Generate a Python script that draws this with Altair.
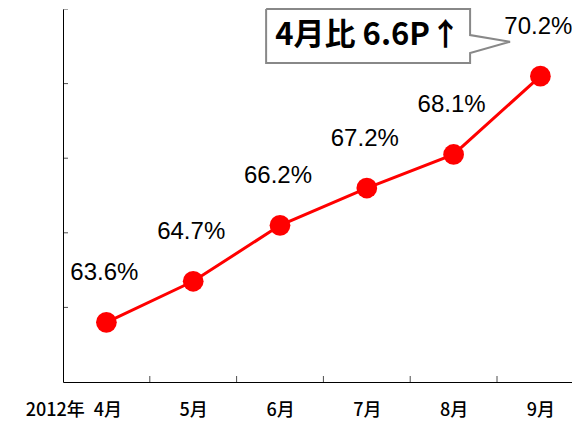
import json
import altair as alt
import pandas as pd

# ---- data ----
months = ["4月", "5月", "6月", "7月", "8月", "9月"]
values = [63.6, 64.7, 66.2, 67.2, 68.1, 70.2]
value_labels = ["63.6%", "64.7%", "66.2%", "67.2%", "68.1%", "70.2%"]
year_label = "2012年"
y_ticks = [64, 66, 68, 70, 72]
callout_text = "4月比 6.6P↑"

# ---- scales ----
X_MIN, X_MAX = -0.5, 5.364
Y_MIN, Y_MAX = 62, 72
xscale = alt.Scale(domain=[X_MIN, X_MAX], nice=False, zero=False)
yscale = alt.Scale(domain=[Y_MIN, Y_MAX], nice=False, zero=False)

df = pd.DataFrame({"idx": list(range(len(months))), "value": values, "label": value_labels})

axis_labels = [year_label + "\u2002" + months[0]] + months[1:]
label_expr = json.dumps(axis_labels, ensure_ascii=False) + "[datum.value]"

x_axis = alt.Axis(
    values=list(range(len(months))), labelExpr=label_expr, title=None, grid=False,
    ticks=False, domain=True, domainColor="#000000", domainWidth=1,
    labelFont="Noto Sans CJK JP", labelFontSize=18, labelColor="#000000",
    labelFontWeight=500,
    labelPadding=19, labelBaseline="top", labelAngle=0,
    labelOffset={"condition": {"test": "datum.value === 0", "value": -33}, "value": 0},
)
y_axis = alt.Axis(title=None, grid=False, labels=False, ticks=False, domain=True,
                  domainColor="#000000", domainWidth=1)

base = alt.Chart(df)
line = base.mark_line(color="#FF0000", strokeWidth=3).encode(
    x=alt.X("idx:Q", scale=xscale, axis=x_axis),
    y=alt.Y("value:Q", scale=yscale, axis=y_axis),
)
points = base.mark_circle(size=430, color="#FF0000", opacity=1).encode(
    x=alt.X("idx:Q", scale=xscale), y=alt.Y("value:Q", scale=yscale)
)
texts = base.mark_text(dy=-49, dx=-2, fontSize=24, font="Liberation Sans",
                       baseline="middle", align="center", color="#000000").encode(
    x=alt.X("idx:Q", scale=xscale), y=alt.Y("value:Q", scale=yscale), text="label:N"
)

# inward ticks on both axes
yt = pd.DataFrame({"idx": [X_MIN] * len(y_ticks), "value": y_ticks})
ytick = alt.Chart(yt).mark_tick(orient="horizontal", size=10, thickness=1, clip=True,
                                color="#000000").encode(
    x=alt.X("idx:Q", scale=xscale), y=alt.Y("value:Q", scale=yscale))
xt = pd.DataFrame({"idx": [i + 0.5 for i in range(len(months) - 1)],
                   "value": [Y_MIN] * (len(months) - 1)})
xtick = alt.Chart(xt).mark_tick(orient="vertical", size=12, thickness=1, clip=True,
                                color="#000000").encode(
    x=alt.X("idx:Q", scale=xscale), y=alt.Y("value:Q", scale=yscale))

# callout box with pointer toward the last value
L, R, T, B = 1.84, 4.19, 72.0, 70.55
wt, wb = 71.30, 70.82
tip = (4.65, 71.12)
poly = [(L, T), (R, T), (R, wt), tip, (R, wb), (R, B), (L, B), (L, T)]
cdf = pd.DataFrame({"idx": [p[0] for p in poly], "value": [p[1] for p in poly],
                    "o": list(range(len(poly)))})
callout = alt.Chart(cdf).mark_line(color="#888888", strokeWidth=2, strokeJoin="miter").encode(
    x=alt.X("idx:Q", scale=xscale), y=alt.Y("value:Q", scale=yscale), order="o:Q")
ctext = alt.Chart(pd.DataFrame({"idx": [(L + R) / 2], "value": [(T + B) / 2],
                                "t": [callout_text]})).mark_text(
    fontSize=31, font="Noto Sans CJK JP", fontWeight="bold", baseline="middle",
    align="center", color="#000000").encode(
    x=alt.X("idx:Q", scale=xscale), y=alt.Y("value:Q", scale=yscale), text="t:N")

chart = alt.layer(line, points, texts, ytick, xtick, callout, ctext).properties(
    width=509, height=373,
    autosize=alt.AutoSizeParams(type="none"),
    padding={"left": 63, "top": 9, "right": 0, "bottom": 40},
    background="white",
).configure_view(stroke=None)

chart.save("out.html", embed_options={"renderer": "svg", "actions": False})
